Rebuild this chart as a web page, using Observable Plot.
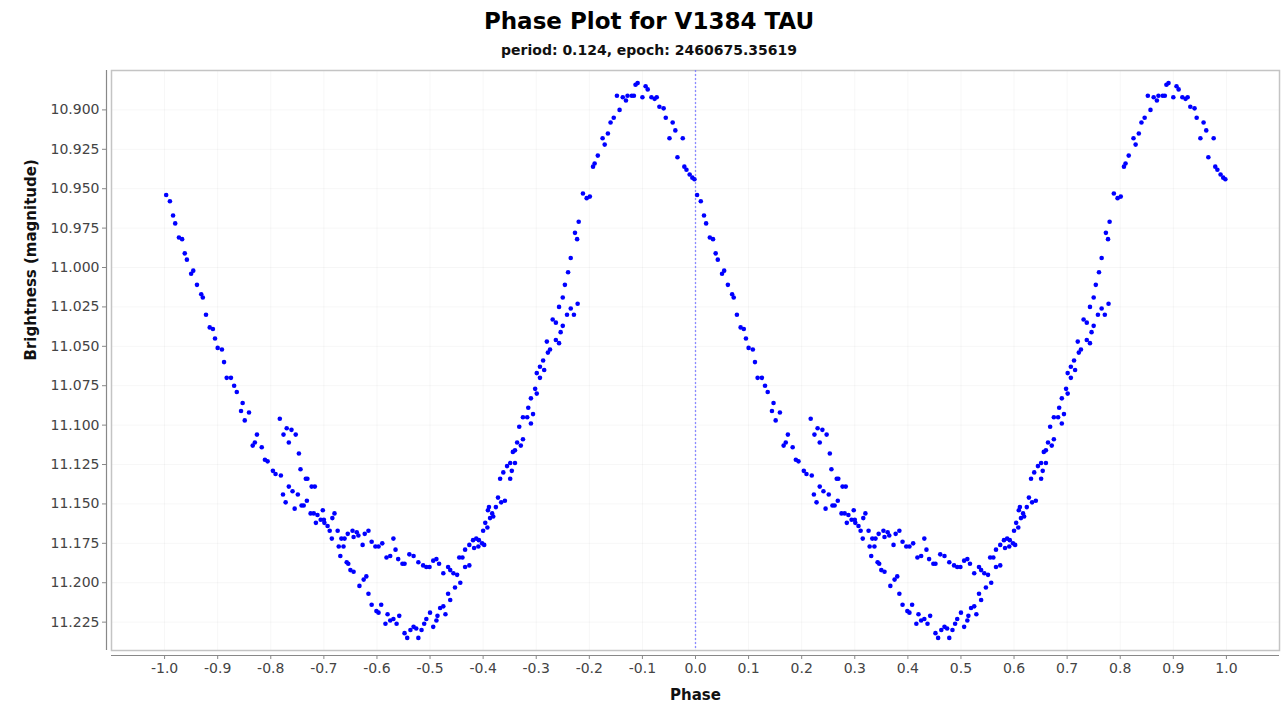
<!DOCTYPE html>
<html>
<head>
<meta charset="utf-8">
<script src="https://cdn.jsdelivr.net/npm/d3@7"></script>
<script src="https://cdn.jsdelivr.net/npm/@observablehq/plot@0.6"></script>
<style>
  body { margin: 0; background: #fff; font-family: "DejaVu Sans", sans-serif; }
  #wrap { position: relative; width: 1287px; height: 703px; overflow: hidden; }
  #title { position: absolute; left: 11px; right: 0; top: 10px; text-align: center;
           font-weight: bold; font-size: 23px; line-height: 23px; color: #000; }
  #subtitle { position: absolute; left: 11px; right: 0; top: 43px; text-align: center;
           font-weight: bold; font-size: 14px; line-height: 14px; color: #111; }
  #chart { position: absolute; left: 0; top: 62px; }
</style>
</head>
<body>
<div id="wrap">
  <div id="title">Phase Plot for V1384 TAU</div>
  <div id="subtitle">period: 0.124, epoch: 2460675.35619</div>
  <div id="chart"></div>
</div>
<script>
// Observations folded on one cycle (phase -1 .. 0); the plot shows them again one cycle later.
const phase = [
-0.997,-0.990,-0.984,-0.980,-0.973,-0.967,-0.962,-0.958,-0.950,-0.946,
-0.939,-0.931,-0.928,-0.922,-0.915,-0.909,-0.905,-0.900,-0.892,-0.888,
-0.883,-0.875,-0.869,-0.864,-0.853,-0.856,-0.841,-0.849,-0.826,-0.834,
-0.830,-0.817,-0.811,-0.806,-0.796,-0.791,-0.781,-0.783,-0.770,-0.776,
-0.761,-0.753,-0.766,-0.747,-0.744,-0.734,-0.731,-0.766,-0.759,-0.749,
-0.777,-0.772,-0.755,-0.742,-0.738,-0.732,-0.723,-0.717,-0.725,-0.719,
-0.712,-0.706,-0.700,-0.702,-0.699,-0.715,-0.684,-0.680,-0.693,-0.689,
-0.685,-0.674,-0.667,-0.661,-0.655,-0.672,-0.663,-0.669,-0.657,-0.654,
-0.646,-0.638,-0.635,-0.644,-0.627,-0.650,-0.644,-0.623,-0.616,-0.610,
-0.603,-0.597,-0.590,-0.620,-0.625,-0.633,-0.569,-0.565,-0.582,-0.575,
-0.616,-0.610,-0.601,-0.597,-0.592,-0.560,-0.552,-0.548,-0.539,-0.531,
-0.522,-0.580,-0.584,-0.575,-0.569,-0.563,-0.558,-0.548,-0.543,-0.537,
-0.526,-0.522,-0.513,-0.507,-0.501,-0.494,-0.488,-0.483,-0.475,-0.466,
-0.462,-0.456,-0.449,-0.445,-0.439,-0.434,-0.426,-0.434,-0.426,-0.419,
-0.413,-0.408,-0.402,-0.409,-0.417,-0.400,-0.392,-0.396,-0.387,-0.381,
-0.391,-0.376,-0.366,-0.372,-0.359,-0.368,-0.362,-0.355,-0.349,-0.340,
-0.349,-0.340,-0.336,-0.531,-0.516,-0.511,-0.507,-0.500,-0.494,-0.488,
-0.486,-0.481,-0.475,-0.471,-0.462,-0.466,-0.453,-0.443,-0.389,-0.383,
-0.398,-0.346,-0.344,-0.329,-0.325,-0.332,-0.325,-0.317,-0.306,-0.310,
-0.315,-0.310,-0.302,-0.299,-0.299,-0.293,-0.293,-0.285,-0.287,-0.278,
-0.274,-0.280,-0.263,-0.257,-0.269,-0.263,-0.254,-0.250,-0.242,-0.235,
-0.229,-0.222,-0.257,-0.250,-0.246,-0.240,-0.235,-0.227,-0.223,-0.220,
-0.212,-0.205,-0.199,-0.193,-0.190,-0.184,-0.175,-0.171,-0.165,-0.160,
-0.154,-0.143,-0.148,-0.137,-0.131,-0.128,-0.120,-0.116,-0.113,-0.109,
-0.100,-0.094,-0.090,-0.083,-0.077,-0.073,-0.068,-0.060,-0.056,-0.049,
-0.043,-0.038,-0.024,-0.034,-0.021,-0.017,-0.011,-0.006,-0.002
];
const magnitude = [
10.954,10.958,10.967,10.972,10.981,10.982,10.991,10.995,11.004,11.002,
11.011,11.017,11.019,11.030,11.038,11.039,11.045,11.051,11.052,11.060,
11.070,11.070,11.075,11.079,11.086,11.091,11.092,11.097,11.106,11.113,
11.111,11.114,11.122,11.123,11.129,11.131,11.132,11.096,11.102,11.106,
11.103,11.106,11.111,11.118,11.128,11.134,11.134,11.139,11.142,11.144,
11.144,11.149,11.153,11.151,11.151,11.148,11.139,11.139,11.156,11.156,
11.157,11.160,11.160,11.154,11.162,11.162,11.159,11.156,11.164,11.167,
11.172,11.167,11.172,11.172,11.169,11.177,11.177,11.183,11.187,11.188,
11.167,11.168,11.170,11.171,11.176,11.192,11.193,11.169,11.167,11.174,
11.177,11.177,11.175,11.196,11.198,11.202,11.172,11.179,11.184,11.183,
11.207,11.214,11.218,11.219,11.214,11.185,11.188,11.188,11.182,11.183,
11.187,11.220,11.226,11.224,11.223,11.226,11.221,11.232,11.235,11.230,
11.229,11.235,11.189,11.190,11.190,11.186,11.185,11.188,11.194,11.190,
11.192,11.194,11.195,11.184,11.184,11.190,11.189,11.179,11.176,11.173,
11.172,11.173,11.175,11.177,11.178,11.167,11.165,11.162,11.159,11.158,
11.154,11.152,11.149,11.146,11.148,11.134,11.130,11.126,11.124,11.124,
11.134,11.116,11.111,11.228,11.230,11.226,11.223,11.219,11.228,11.224,
11.221,11.216,11.215,11.220,11.211,11.207,11.203,11.200,11.152,11.156,
11.176,11.129,11.117,11.113,11.109,11.101,11.095,11.095,11.093,11.099,
11.089,11.083,11.077,11.080,11.067,11.070,11.063,11.065,11.059,11.054,
11.052,11.047,11.046,11.048,11.033,11.035,11.041,11.037,11.030,11.026,
11.030,11.023,11.025,11.019,11.011,11.003,10.994,10.978,10.982,10.971,
10.953,10.956,10.955,10.936,10.934,10.929,10.918,10.922,10.915,10.908,
10.905,10.900,10.891,10.892,10.894,10.891,10.891,10.891,10.884,10.883,
10.892,10.885,10.887,10.892,10.893,10.892,10.898,10.899,10.905,10.918,
10.908,10.913,10.918,10.930,10.936,10.938,10.941,10.943,10.944
];
const cycles = [0, 1];
const xTicks = [-1.0,-0.9,-0.8,-0.7,-0.6,-0.5,-0.4,-0.3,-0.2,-0.1,0.0,0.1,0.2,0.3,0.4,0.5,0.6,0.7,0.8,0.9,1.0];
const yTicks = [10.900,10.925,10.950,10.975,11.000,11.025,11.050,11.075,11.100,11.125,11.150,11.175,11.200,11.225];
const xDomain = [-1.1, 1.1];
const yDomain = [10.875, 11.243];
const titleY = "Brightness (magnitude)";
const titleX = "Phase";

const points = [];
for (const c of cycles) {
  for (let i = 0; i < Math.min(phase.length, magnitude.length); i++) {
    points.push({phase: phase[i] + c, mag: magnitude[i]});
  }
}

const chart = Plot.plot({
  width: 1287,
  height: 641,
  marginTop: 8,
  marginBottom: 53,
  marginLeft: 111,
  marginRight: 8,
  style: {fontFamily: "DejaVu Sans, sans-serif", fontSize: "14px", background: "white", color: "#444"},
  x: {domain: xDomain, label: null},
  y: {domain: yDomain, reverse: true, label: null},
  marks: [
    Plot.gridX(xTicks, {stroke: "#000", strokeOpacity: 0.035}),
    Plot.gridY(yTicks, {stroke: "#000", strokeOpacity: 0.035}),
    Plot.frame({stroke: "#c4c4c4", strokeWidth: 1.5}),
    Plot.ruleX([0], {stroke: "#8080ff", strokeOpacity: 0.9, strokeDasharray: "2,2", strokeWidth: 1.3}),
    Plot.dot(points, {x: "phase", y: "mag", r: 2.3, fill: "#0000ff", stroke: null}),
    Plot.ruleX([xDomain[0]], {dx: -5, stroke: "#888", strokeWidth: 1.2}),
    Plot.ruleY([yDomain[1]], {dy: 5, stroke: "#888", strokeWidth: 1.2}),
    Plot.axisY({ticks: yTicks, tickFormat: d => d.toFixed(3), tickSize: 4, tickPadding: 3, dx: -5, stroke: "#888", fill: "#444", fontSize: 14, label: null}),
    Plot.axisX({ticks: xTicks, tickFormat: d => d.toFixed(1), tickSize: 4, tickPadding: 4, dy: 5, stroke: "#888", fill: "#444", fontSize: 14, label: null}),
    Plot.text([titleY], {frameAnchor: "left", rotate: -90, dx: -80, fontWeight: "bold", fontSize: 15, fill: "#111"}),
    Plot.text([titleX], {frameAnchor: "bottom", lineAnchor: "middle", dy: 45, fontWeight: "bold", fontSize: 15, fill: "#111"})
  ]
});
document.getElementById("chart").appendChild(chart);
</script>
</body>
</html>
